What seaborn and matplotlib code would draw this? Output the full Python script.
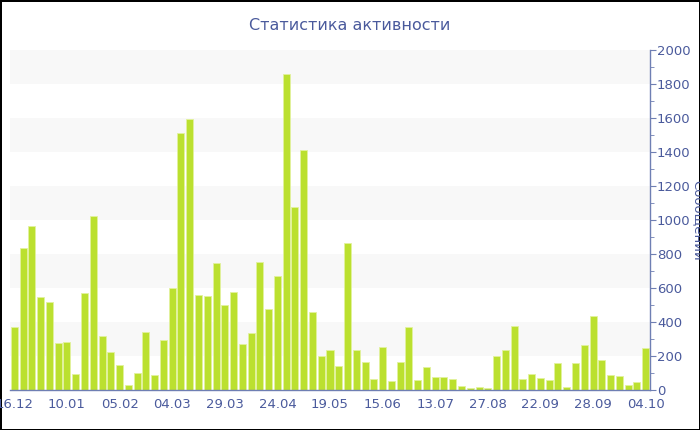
import numpy as np
import pandas as pd
import seaborn as sns
import matplotlib.pyplot as plt
from matplotlib.ticker import MultipleLocator

# weekly message counts
counts = [369, 837, 967, 545, 516, 276, 280, 94, 570, 1024,
          318, 224, 145, 29, 98, 341, 90, 296, 600, 1510,
          1594, 561, 555, 747, 498, 575, 270, 335, 751, 476,
          673, 1857, 1078, 1410, 457, 202, 233, 141, 865, 233,
          163, 67, 253, 55, 167, 371, 59, 137, 78, 77,
          63, 25, 12, 18, 14, 198, 235, 376, 65, 96,
          73, 57, 157, 16, 159, 265, 435, 178, 88, 84,
          29, 47, 247]
tick_labels = ['16.12', '10.01', '05.02', '04.03', '29.03', '24.04', '19.05',
               '15.06', '13.07', '27.08', '22.09', '28.09', '04.10']
tick_step = 6

df = pd.DataFrame({'week': range(len(counts)), 'count': counts})

text_col = '#4a5a9c'
axis_col = '#6f7fb3'
bar_col = '#bbe02f'

sns.set_style('white')
plt.rcParams['font.family'] = ['DejaVu Sans']

fig = plt.figure(figsize=(7, 4.3), dpi=100)
fig.patch.set_edgecolor('black')
fig.patch.set_linewidth(2)
ax = fig.add_axes([10 / 700, 40 / 430, 640 / 700, 340 / 430])

# alternating background bands
for lo in range(200, 2000, 400):
    ax.axhspan(lo, lo + 200, color='#f8f8f8', zorder=0, lw=0)

sns.barplot(data=df, x='week', y='count', color=bar_col, saturation=1,
            width=0.8, edgecolor='#e2f29e', linewidth=0.6, ax=ax, zorder=2)

ax.set_xlim(-0.5, len(counts) - 0.5)
ax.set_ylim(0, 2000)
ax.set_xticks(range(0, len(counts), tick_step))
ax.set_xticklabels(tick_labels)
ax.yaxis.tick_right()
ax.yaxis.set_major_locator(MultipleLocator(200))
ax.yaxis.set_minor_locator(MultipleLocator(100))
ax.tick_params(axis='both', colors=axis_col, labelcolor=text_col, labelsize=9.5)
ax.tick_params(axis='y', which='major', length=4, direction='out', pad=1)
ax.tick_params(axis='y', which='minor', length=3, color=axis_col, right=True)
ax.tick_params(axis='x', length=4, pad=2)
ax.set_xlabel('')
ax.set_ylabel('')
for side in ['top', 'left']:
    ax.spines[side].set_visible(False)
for side in ['bottom', 'right']:
    ax.spines[side].set_color(axis_col)
    ax.spines[side].set_linewidth(1)

fig.text(0.5, 1 - 25 / 430, 'Статистика активности', ha='center', va='center',
         color=text_col, fontsize=11.5)
fig.text(691 / 700, 0.5 + (430 / 2 - 220) / 430, 'Сообщений', rotation=270,
         ha='left', va='center', color=text_col, fontsize=9.5)

plt.savefig('out.png', dpi=100)
